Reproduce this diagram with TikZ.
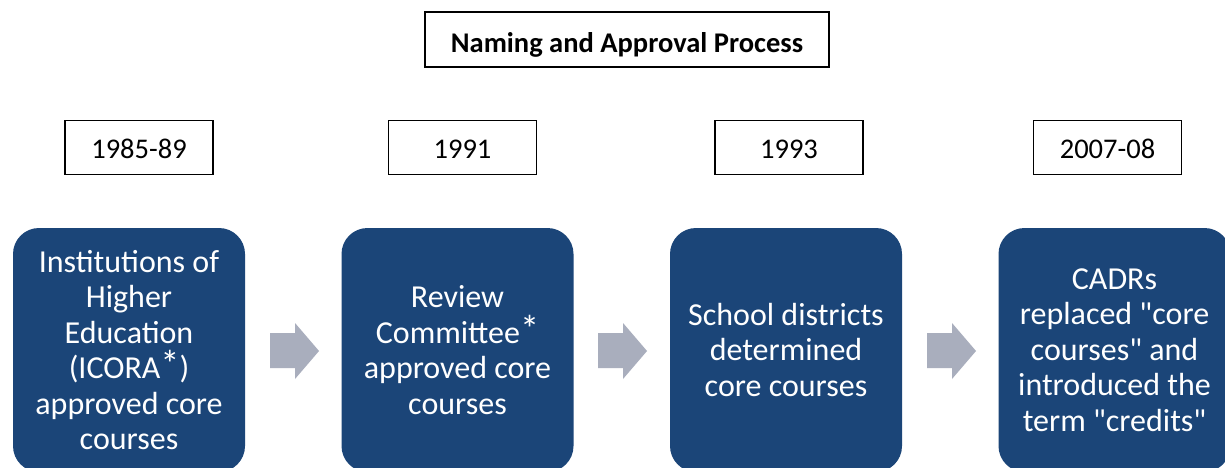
\documentclass[tikz,border=0pt]{standalone}
\usepackage{fontspec}
\setmainfont{Carlito}[Ligatures=TeXOff]
\definecolor{boxblue}{RGB}{27,69,120}
\definecolor{arrowgray}{RGB}{169,174,189}
\newcommand\upast{\raisebox{0.03em}{\scalebox{1.2}{*}}}
\tikzset{
  titlebox/.style={draw=black, line width=1.8pt, minimum width=404pt, minimum height=55pt, inner sep=0pt, text height=26pt, text depth=0pt, font=\fontsize{28.5}{34}\selectfont\bfseries},
  yearbox/.style={draw=black, line width=1.8pt, minimum width=148pt, minimum height=54pt, inner sep=0pt, text height=24pt, text depth=3pt, font=\fontsize{28.5}{34}\selectfont},
  stagebox/.style={fill=boxblue, rounded corners=26pt, minimum width=232pt, minimum height=244pt, inner sep=0pt, text=white, align=center, font=\fontsize{32}{35.5}\selectfont},
  flowarrow/.style={fill=arrowgray}
}
\begin{document}
\begin{tikzpicture}[x=1pt,y=-1pt]
\clip (0,0) rectangle (1225,468);
\fill[white] (0,0) rectangle (1225,468);
\node[titlebox] (title) at (627,39.5) {Naming and Approval Process};
\node[yearbox] (y1) at (139,147.5) {1985-89};
\node[yearbox] (y2) at (462.5,147.5) {1991};
\node[yearbox] (y3) at (789,147.5) {1993};
\node[yearbox] (y4) at (1107.5,147.5) {2007-08};
\node[stagebox] (s1) at (129,350) {Institutions of\\Higher\\Education\\(ICORA\upast)\\approved core\\courses};
\node[stagebox] (s2) at (457.5,350) {Review\\Committee\upast\\approved core\\courses};
\node[stagebox] (s3) at (786,350) {School districts\\determined\\core courses};
\node[stagebox] (s4) at (1114.5,350) {CADRs\\replaced "core\\courses" and\\introduced the\\term "credits"};
\foreach \ax in {270,598,927}{
  \fill[flowarrow, shift={(\ax,0)}] (0,333) -- (25,333) -- (25,323) -- (49,351) -- (25,379) -- (25,368) -- (0,368) -- cycle;
}
\end{tikzpicture}
\end{document}
